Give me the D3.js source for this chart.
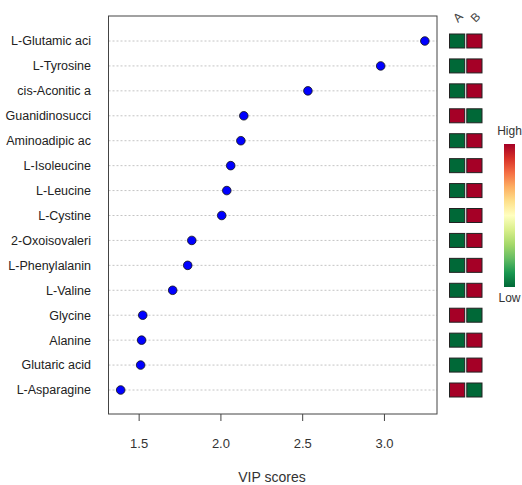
<!DOCTYPE html>
<html><head><meta charset="utf-8">
<script src="https://cdn.jsdelivr.net/npm/d3@7"></script>
<style>body{margin:0;background:#fff;} text{font-family:"Liberation Sans",Arial,sans-serif;}</style>
</head><body>
<svg id="c" width="522" height="485"></svg>
<script>
const features = ["L-Glutamic aci","L-Tyrosine","cis-Aconitic a","Guanidinosucci","Aminoadipic ac","L-Isoleucine","L-Leucine","L-Cystine","2-Oxoisovaleri","L-Phenylalanin","L-Valine","Glycine","Alanine","Glutaric acid","L-Asparagine"];
const vip = [3.25,2.98,2.535,2.143,2.125,2.063,2.039,2.008,1.825,1.80,1.708,1.525,1.518,1.512,1.39];
const groups = ["A","B"];
// 1 = high, 0 = low
const groupA = [0,0,0,1,0,0,0,0,0,0,0,1,0,0,1];
const groupB = [1,1,1,0,1,1,1,1,1,1,1,0,1,1,0];
const xTicks = [1.5,2.0,2.5,3.0];

const svg = d3.select("#c");
const L=108.5,R=437,T=16,B=414;
const x = d3.scaleLinear().domain([1.3156,3.3244]).range([L,R]);
const y = d3.scalePoint().domain(features).range([41,390]);

// gridlines
svg.append("g").selectAll("line").data(features).join("line")
  .attr("x1",L).attr("x2",R).attr("y1",d=>y(d)).attr("y2",d=>y(d))
  .attr("stroke","#c4c4c4").attr("stroke-width",1).attr("stroke-dasharray","2,2");

// box
svg.append("rect").attr("x",L).attr("y",T).attr("width",R-L).attr("height",B-T)
  .attr("fill","none").attr("stroke","#444").attr("stroke-width",1);

// x axis
const xa = svg.append("g").attr("transform",`translate(0,${B})`)
  .call(d3.axisBottom(x).tickValues(xTicks).tickFormat(d3.format(".1f")).tickSize(7).tickSizeOuter(0));
xa.select(".domain").remove();
xa.selectAll("line").attr("stroke","#444");
xa.selectAll("text").attr("font-size",13).attr("fill","#333").attr("dy","1.85em");

// y labels
svg.append("g").selectAll("text").data(features).join("text")
  .attr("x",91).attr("y",d=>y(d)).attr("dy","0.35em").attr("text-anchor","end")
  .attr("font-size",12.5).attr("fill","#222").text(d=>d);

// points
svg.append("g").selectAll("circle").data(features).join("circle")
  .attr("cx",(d,i)=>x(vip[i])).attr("cy",d=>y(d)).attr("r",4.3)
  .attr("fill","#0000ff").attr("stroke","#111").attr("stroke-width",0.8);

// x title
svg.append("text").attr("x",272).attr("y",482).attr("text-anchor","middle")
  .attr("font-size",14).attr("fill","#333").text("VIP scores");

// heatmap
const col = d3.scaleOrdinal().domain([0,1]).range(["#006837","#a50026"]);
const gx = d3.scaleBand().domain(groups).range([449.5,482]).paddingInner(0.12);
const cells = [];
features.forEach((f,i)=>{cells.push({f,g:"A",v:groupA[i]});cells.push({f,g:"B",v:groupB[i]});});
svg.append("g").selectAll("rect").data(cells).join("rect")
  .attr("x",d=>gx(d.g)).attr("y",d=>y(d.f)-7).attr("width",gx.bandwidth()).attr("height",14)
  .attr("fill",d=>col(d.v)).attr("stroke","#222").attr("stroke-width",1);

svg.append("g").selectAll("text").data(groups).join("text")
  .attr("transform",d=>`translate(${gx(d)+gx.bandwidth()/2+1},${23}) rotate(-45)`)
  .attr("font-size",12).attr("fill","#444").text(d=>d);

// legend color bar
const defs = svg.append("defs");
const grad = defs.append("linearGradient").attr("id","g").attr("x1",0).attr("x2",0).attr("y1",0).attr("y2",1);
const stops = ["#a50026","#d73027","#f46d43","#fdae61","#fee08b","#ffffbf","#d9ef8b","#a6d96a","#66bd63","#1a9850","#006837"];
stops.forEach((c,i)=>grad.append("stop").attr("offset",i/(stops.length-1)).attr("stop-color",c));
svg.append("rect").attr("x",504).attr("y",144).attr("width",11).attr("height",143).attr("fill","url(#g)");
svg.append("text").attr("x",509.5).attr("y",135).attr("text-anchor","middle").attr("font-size",12).attr("fill","#333").text("High");
svg.append("text").attr("x",509.5).attr("y",302).attr("text-anchor","middle").attr("font-size",12).attr("fill","#333").text("Low");
</script>
</body></html>
